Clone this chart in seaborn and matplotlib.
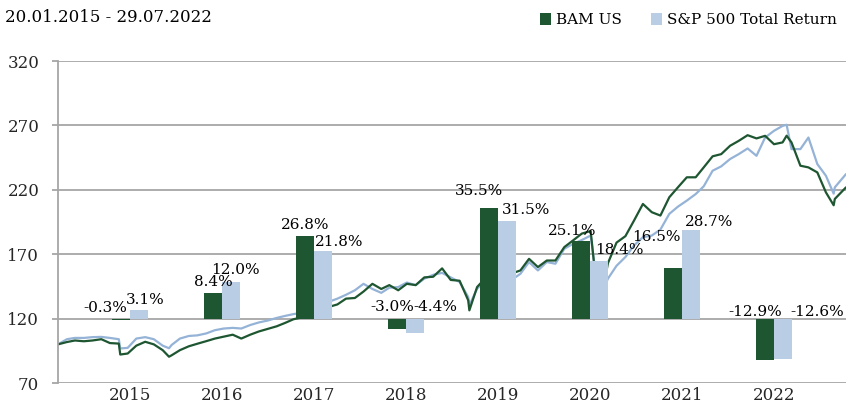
import matplotlib
matplotlib.use("Agg")
import matplotlib.pyplot as plt
from matplotlib.patches import Patch
import seaborn as sns
import pandas as pd

# ---------------- data ----------------
years = ["2015", "2016", "2017", "2018", "2019", "2020", "2021", "2022"]
bam_returns = [-0.3, 8.4, 26.8, -3.0, 35.5, 25.1, 16.5, -12.9]
sp_returns = [3.1, 12.0, 21.8, -4.4, 31.5, 18.4, 28.7, -12.6]
# bar ends (index units, bars start at 120)
bar_base = 120.0
bam_bar_top = [118.8, 139.9, 184.5, 112.0, 205.9, 180.6, 159.2, 87.7]
sp_bar_top = [127.0, 148.4, 172.6, 108.6, 196.1, 164.4, 189.1, 88.5]

dates = [
    "2015-01-20", "2015-02-20", "2015-03-20", "2015-04-20", "2015-05-20", "2015-06-20",
    "2015-07-20", "2015-08-20", "2015-08-25", "2015-09-20", "2015-10-20", "2015-11-20", "2015-12-20",
    "2016-01-20", "2016-02-11", "2016-02-20", "2016-03-20", "2016-04-20", "2016-05-20", "2016-06-20",
    "2016-07-20", "2016-08-20", "2016-09-20", "2016-10-20", "2016-11-20", "2016-12-20",
    "2017-01-20", "2017-02-20", "2017-03-20", "2017-04-20", "2017-05-20", "2017-06-20",
    "2017-07-20", "2017-08-20", "2017-09-20", "2017-10-20", "2017-11-20", "2017-12-20",
    "2018-01-20", "2018-02-20", "2018-03-20", "2018-04-20", "2018-05-20", "2018-06-20",
    "2018-07-20", "2018-08-20", "2018-09-20", "2018-10-20", "2018-11-20", "2018-12-20", "2018-12-24",
    "2019-01-20", "2019-02-20", "2019-03-20", "2019-04-20", "2019-05-20", "2019-06-20",
    "2019-07-20", "2019-08-20", "2019-09-20", "2019-10-20", "2019-11-20", "2019-12-20",
    "2020-01-20", "2020-02-20", "2020-03-20", "2020-04-20", "2020-05-20", "2020-06-20",
    "2020-07-20", "2020-08-20", "2020-09-20", "2020-10-20", "2020-11-20", "2020-12-20",
    "2021-01-20", "2021-02-20", "2021-03-20", "2021-04-20", "2021-05-20", "2021-06-20",
    "2021-07-20", "2021-08-20", "2021-09-20", "2021-10-20", "2021-11-20", "2021-12-20",
    "2022-01-03", "2022-01-20", "2022-02-20", "2022-03-20", "2022-04-20", "2022-05-20",
    "2022-06-16", "2022-06-20", "2022-07-29",
]
sp_index = [
    100, 104, 105, 105, 105.6, 105.8, 105, 104, 96.8, 97.3, 104.5, 105.6, 104,
    99, 97, 99.5, 104.5, 106.5, 107, 108.5, 111, 112.3, 112.8, 112.3, 115, 117,
    118.5, 120.5, 122, 123.5, 124.5, 126.5, 129, 133, 135.5, 138.5, 142, 147,
    143, 140, 144, 144.5, 148, 146, 151, 154, 155.5, 152, 148.4, 136.8, 130.3,
    143.2, 150, 152, 158, 150, 154.8, 163.9, 157.4, 163.9, 162.6, 174.2, 178,
    181, 184.5, 135, 151, 161, 167.8, 176.8, 183.2, 184.5, 189.1, 201.3, 206.9,
    211.6, 216.7, 222.7, 234.8, 238.2, 243.9, 247.7, 252.1, 246.4, 260.6, 265.8, 269.6,
    270.5, 251.6, 251.6, 260.6, 240, 230.9, 217, 221.9, 232.2,
]
bam_index = [
    100, 101.8, 103, 102.4, 103, 104, 101, 100.6, 92.1, 92.9, 99, 102, 100,
    95.5, 90.4, 91.5, 95.5, 98.5, 100.5, 102.5, 104.5, 106, 107.5, 104.5, 107.5, 110,
    112, 114, 116.5, 119.5, 121, 123, 126, 129, 131, 135.5, 136, 141,
    147, 143, 146, 142, 147, 146, 152, 152.5, 159, 150, 149.4, 134.2, 126.4,
    144.5, 152, 156, 162, 155, 157.4, 166.4, 160, 165.1, 165.1, 175.5, 180.6,
    186, 188, 125, 163, 179, 184, 196.1, 209, 202.6, 200, 214.2, 221.9,
    229.7, 229.7, 237.4, 246, 247.7, 254.2, 258, 262.4, 259.9, 261.9, 255.4, 256.8,
    262, 256.8, 238.7, 237.4, 233.5, 218, 208, 212.9, 221.9,
]

series_names = ["BAM US", "S&P 500 Total Return"]

# ---------------- style ----------------
GREEN = "#1E5631"
BAR_BLUE = "#B9CDE5"
LINE_BLUE = "#95B3D7"
GRID = "#A6A6A6"

sns.set_theme(style="white")
plt.rcParams["font.family"] = ["DejaVu Serif"]
plt.rcParams["text.color"] = "black"

W, H = 846, 407
fig = plt.figure(figsize=(W / 100, H / 100), dpi=100)
rect = [58 / W, 24 / H, 788 / W, 322 / H]

# line axis (underneath)
ax = fig.add_axes(rect)
lines_df = pd.DataFrame({
    "date": pd.to_datetime(dates * 2),
    "value": sp_index + bam_index,
    "series": [series_names[1]] * len(dates) + [series_names[0]] * len(dates),
})
sns.lineplot(data=lines_df, x="date", y="value", hue="series",
             hue_order=[series_names[1], series_names[0]],
             palette=[LINE_BLUE, GREEN], linewidth=1.6, ax=ax, legend=False,
             estimator=None, sort=False)
ax.set_xlim(pd.Timestamp("2015-01-20"), pd.Timestamp("2022-07-29"))
ax.set_ylim(70, 320)
ax.set_yticks(range(70, 321, 50))
ax.yaxis.grid(True, color=GRID, linewidth=1.3)
ax.xaxis.grid(False)
ax.set_axisbelow(True)
for s in ["top", "right", "bottom"]:
    ax.spines[s].set_visible(False)
ax.spines["left"].set_color(GRID)
ax.spines["left"].set_linewidth(1.3)
ax.set_xticks([])
ax.set_xlabel("")
ax.set_ylabel("")
ax.tick_params(axis="y", left=True, length=4.5, width=1.3, color=GRID, pad=9, labelsize=12)

# bar axis (on top)
axb = fig.add_axes(rect)
axb.patch.set_alpha(0)
bars_df = pd.DataFrame({
    "year": years * 2,
    "height": [t - bar_base for t in bam_bar_top] + [t - bar_base for t in sp_bar_top],
    "series": [series_names[0]] * len(years) + [series_names[1]] * len(years),
})
sns.barplot(data=bars_df, x="year", y="height", hue="series", hue_order=series_names,
            palette=[GREEN, BAR_BLUE], width=0.392, gap=0, saturation=1,
            errorbar=None, ax=axb, legend=False)
for p in axb.patches:
    p.set_linewidth(0)
axb.set_xlim(-0.783, 7.783)
axb.set_ylim(70 - bar_base, 320 - bar_base)
for s in axb.spines.values():
    s.set_visible(False)
axb.set_yticks([])
axb.set_xlabel("")
axb.set_ylabel("")
axb.grid(False)
axb.tick_params(axis="x", length=0, pad=3, labelsize=12)

# value labels (offsets in pixels from bar end / baseline)
bam_label_off = [(-16, 11), (0, 11), (0, 11), (-5, 12), (-10, 17), (-9, 10), (-17, 31), (-10, 7)]
sp_label_off = [(6, 10), (4, 12), (16, 9), (20, 12), (19, 11), (20, 11), (18, 8), (34, 7)]
half = 0.392 / 4
for i in range(len(years)):
    for ret, top, off, dx in ((bam_returns[i], bam_bar_top[i], bam_label_off[i], -half),
                              (sp_returns[i], sp_bar_top[i], sp_label_off[i], half)):
        anchor_y = max(top, bar_base) - bar_base
        axb.annotate(f"{ret:.1f}%", xy=(i + dx, anchor_y), xytext=off,
                     textcoords="offset pixels", ha="center", va="center",
                     fontsize=11, zorder=5)

# title and legend
fig.text(5 / W, 1 - 17 / H, "20.01.2015 - 29.07.2022", ha="left", va="center", fontsize=12)
handles = [Patch(facecolor=GREEN, edgecolor="none"), Patch(facecolor=BAR_BLUE, edgecolor="none")]
fig.legend(handles, series_names, ncol=2, loc="upper right", bbox_to_anchor=(1.0, 0.99),
           frameon=False, fontsize=11, handlelength=0.75, handleheight=0.75,
           handletextpad=0.3, columnspacing=1.9, borderaxespad=0.2)

fig.savefig("out.png", dpi=100)
